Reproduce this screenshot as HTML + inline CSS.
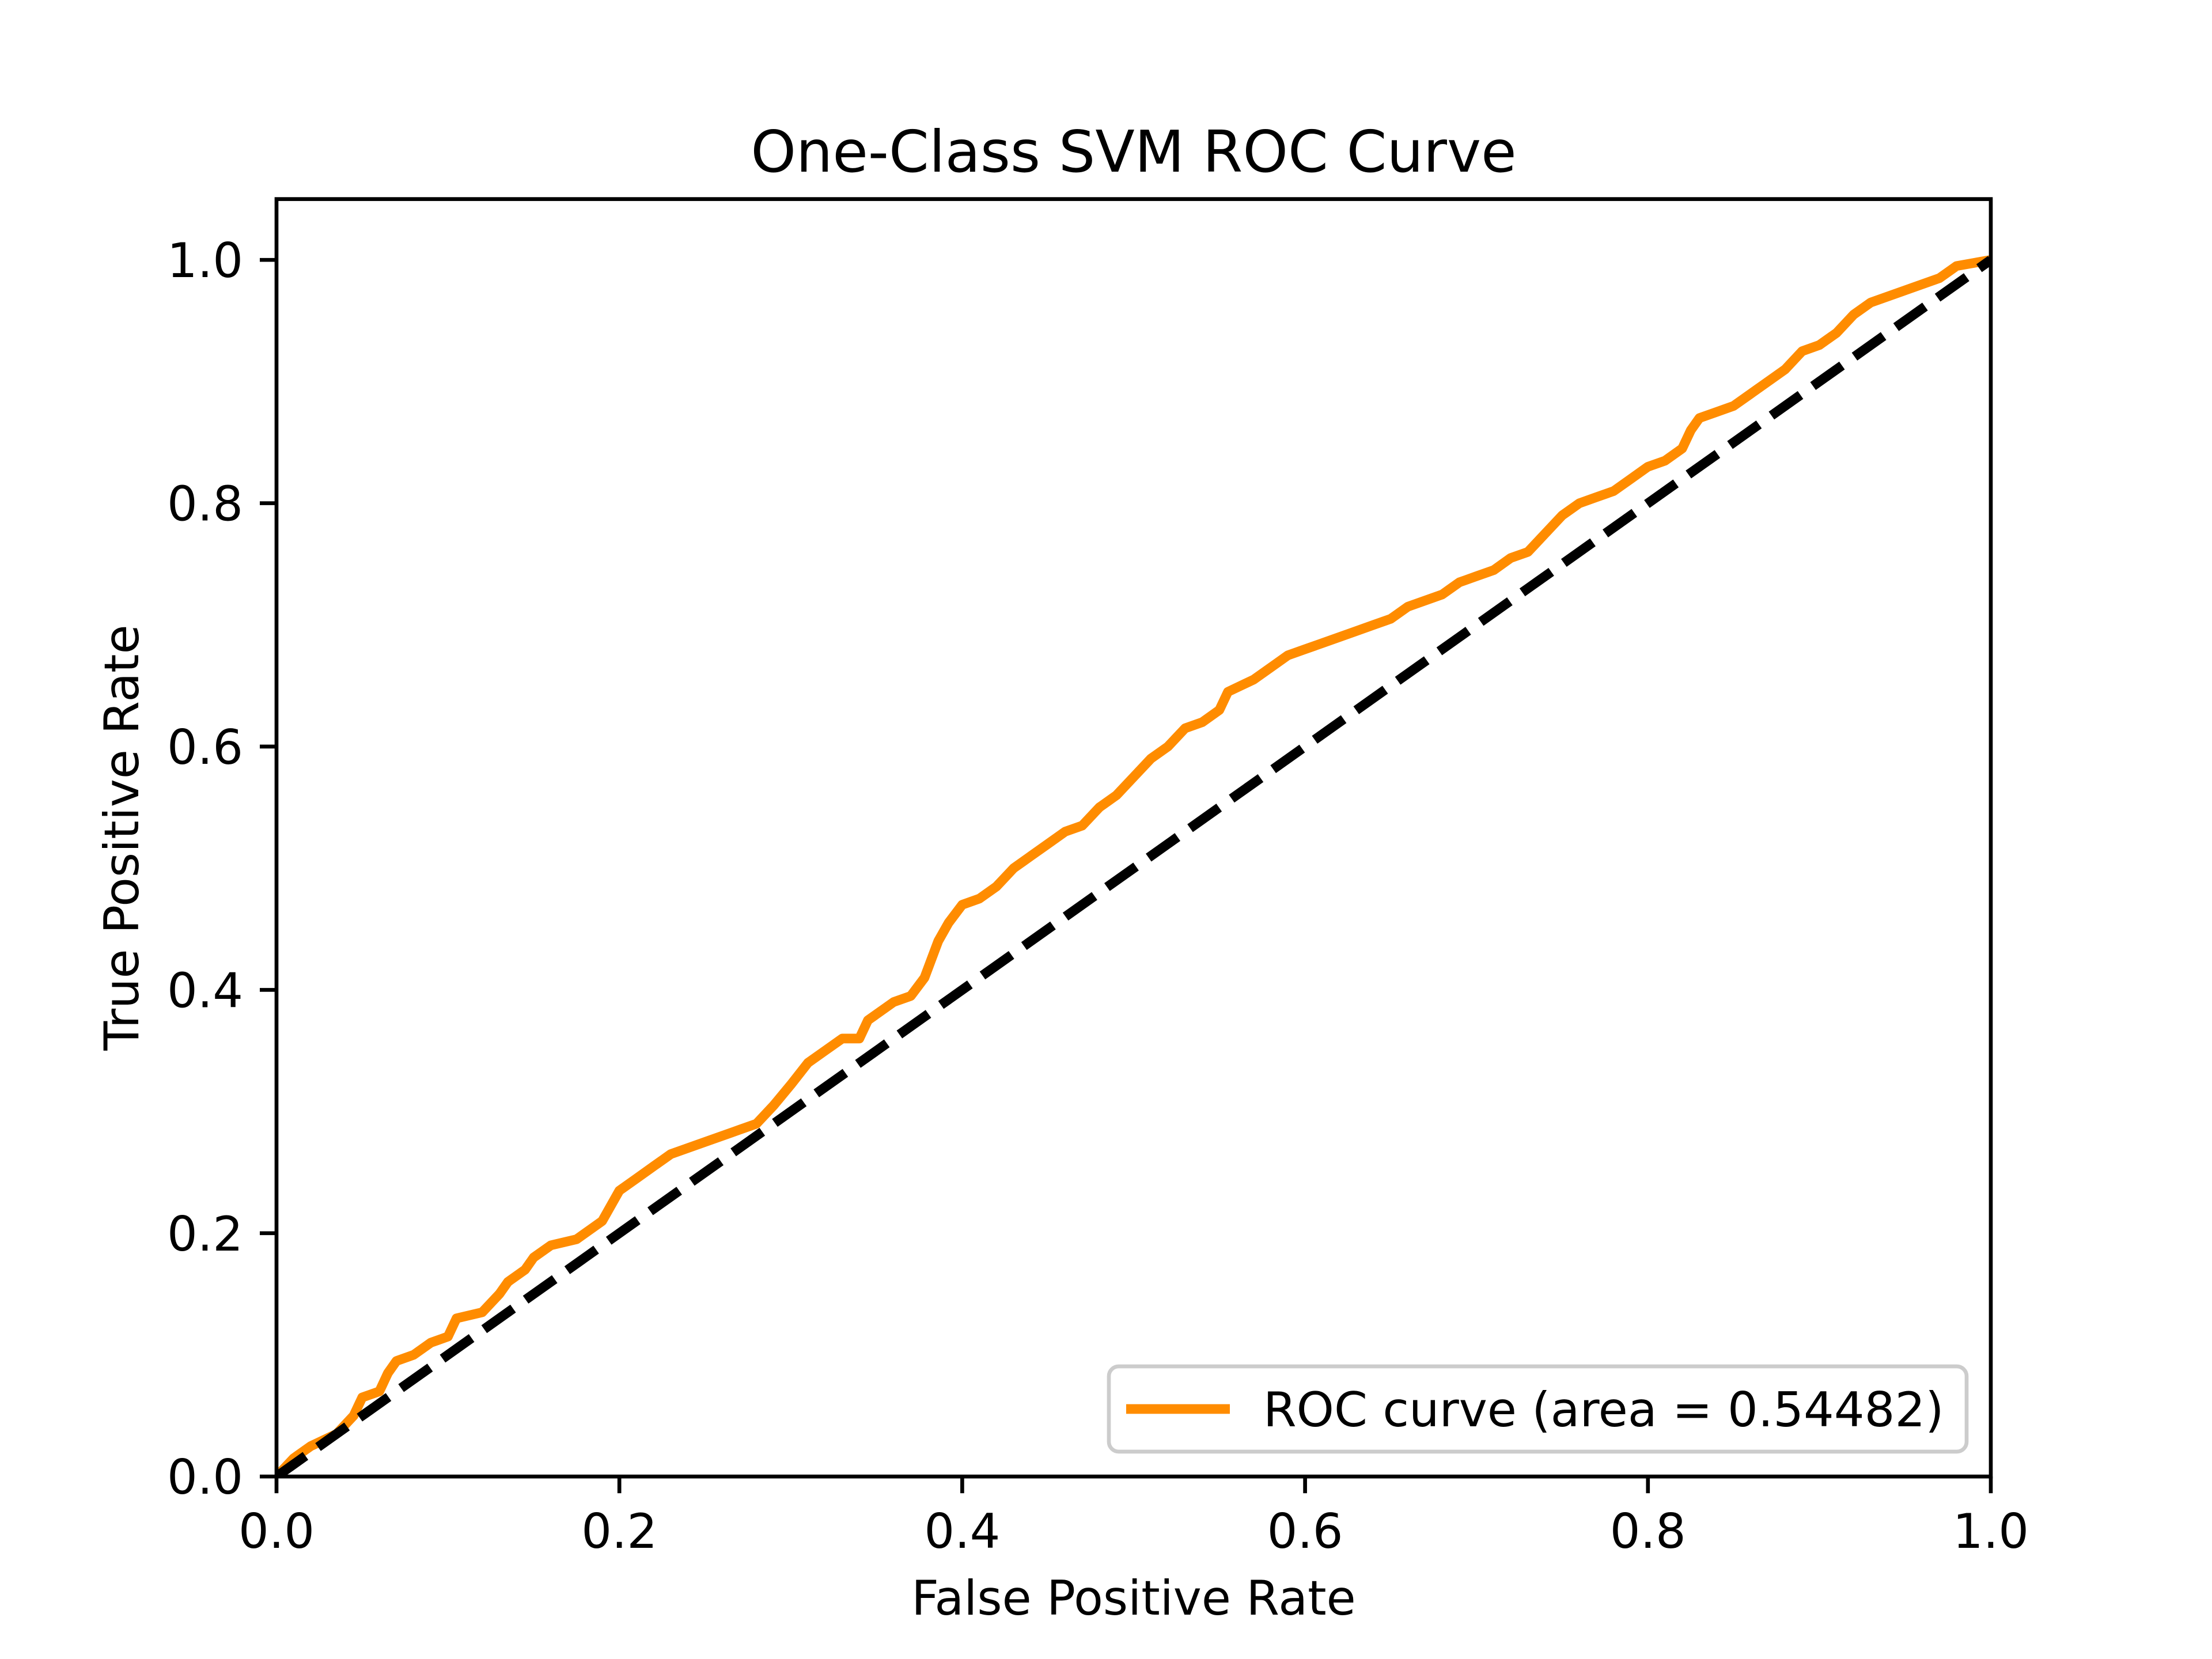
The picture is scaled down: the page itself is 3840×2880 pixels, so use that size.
<!DOCTYPE html>
<html><head><meta charset="utf-8"><style>
html,body{margin:0;padding:0;background:#fff;}
svg{display:block;font-family:"DejaVu Sans","Liberation Sans",sans-serif;}
</style></head><body>
<svg id="chart" width="3840" height="2880" viewBox="0 0 3840 2880" xmlns="http://www.w3.org/2000/svg">
<rect width="3840" height="2880" fill="#fff"/>
<text x="1968" y="298" font-size="100" text-anchor="middle" fill="#000">One-Class SVM ROC Curve</text>
<g id="plot"></g>
<text x="1968" y="2803" font-size="83" text-anchor="middle" fill="#000">False Positive Rate</text>
<text x="0" y="0" font-size="83" text-anchor="middle" fill="#000" transform="translate(240,1454) rotate(-90)">True Positive Rate</text>
</svg>
<script>
const fprValues=[0,0.01,0.02,0.035,0.045,0.05,0.06,0.065,0.07,0.08,0.09,0.1,0.105,0.12,0.13,0.135,0.145,0.15,0.16,0.175,0.18,0.19,0.2,0.21,0.22,0.23,0.25,0.27,0.28,0.29,0.3,0.31,0.32,0.33,0.34,0.345,0.36,0.37,0.378,0.386,0.392,0.4,0.41,0.42,0.43,0.44,0.45,0.46,0.47,0.48,0.49,0.5,0.51,0.52,0.53,0.54,0.55,0.555,0.57,0.58,0.59,0.6,0.61,0.63,0.64,0.65,0.66,0.68,0.69,0.7,0.71,0.72,0.73,0.74,0.75,0.76,0.77,0.78,0.79,0.8,0.81,0.82,0.825,0.83,0.84,0.85,0.86,0.87,0.88,0.89,0.9,0.91,0.92,0.93,0.95,0.97,0.98,1];
const tprValues=[0,0.015,0.025,0.035,0.05,0.065,0.07,0.085,0.095,0.1,0.11,0.115,0.13,0.135,0.15,0.16,0.17,0.18,0.19,0.195,0.2,0.21,0.235,0.245,0.255,0.265,0.275,0.285,0.29,0.305,0.322,0.34,0.35,0.36,0.36,0.375,0.39,0.395,0.41,0.44,0.455,0.47,0.475,0.485,0.5,0.51,0.52,0.53,0.535,0.55,0.56,0.575,0.59,0.6,0.615,0.62,0.63,0.645,0.655,0.665,0.675,0.68,0.685,0.695,0.7,0.705,0.715,0.725,0.735,0.74,0.745,0.755,0.76,0.775,0.79,0.8,0.805,0.81,0.82,0.83,0.835,0.845,0.86,0.87,0.875,0.88,0.89,0.9,0.91,0.925,0.93,0.94,0.955,0.965,0.975,0.985,0.995,1];
const chanceX=[0,1];
const chanceY=[0,1];
const xTicks=[0,0.2,0.4,0.6,0.8,1.0];
const yTicks=[0,0.2,0.4,0.6,0.8,1.0];
const tickLabels=["0.0","0.2","0.4","0.6","0.8","1.0"];
const legendLabel="ROC curve (area = 0.54482)";

const L=480,R=3456,T=345.6,B=2563.2;
const xs=v=>L+v*(R-L);
const ys=v=>B-v/1.05*(B-T);
const NS="http://www.w3.org/2000/svg";
const g=document.getElementById('plot');
function mk(tag,attrs){const e=document.createElementNS(NS,tag);for(const k in attrs)e.setAttribute(k,attrs[k]);return e;}
const clip=mk('clipPath',{id:'clp'});clip.appendChild(mk('rect',{x:L,y:T,width:R-L,height:B-T}));g.appendChild(clip);

let d='';fprValues.forEach((v,i)=>{d+=(i?'L':'M')+xs(v).toFixed(1)+' '+ys(tprValues[i]).toFixed(1);});
const roc=mk('path',{d:d,fill:'none',stroke:'#ff8c00','stroke-width':16.7,'stroke-linejoin':'round','clip-path':'url(#clp)'});


g.appendChild(roc);
const ch=mk('path',{d:'M'+xs(chanceX[0])+' '+ys(chanceY[0])+'L'+xs(chanceX[1])+' '+ys(chanceY[1]),stroke:'#000','stroke-width':16.7,'stroke-dasharray':'61.7 26.7',fill:'none','clip-path':'url(#clp)'});


g.appendChild(ch);

const frame=mk('rect',{x:L,y:T,width:R-L,height:B-T,fill:'none',stroke:'#000','stroke-width':6.67});


g.appendChild(frame);

xTicks.forEach((v,i)=>{
  const t=mk('line',{x1:xs(v),x2:xs(v),y1:B,y2:B+29,stroke:'#000','stroke-width':6.67});
  
  
  g.appendChild(t);
  const tx=mk('text',{x:xs(v),y:2687,'font-size':83,'text-anchor':'middle',fill:'#000'});
  tx.textContent=tickLabels[i];
  
  
  g.appendChild(tx);
});
yTicks.forEach((v,i)=>{
  const t=mk('line',{x1:L-29,x2:L,y1:ys(v),y2:ys(v),stroke:'#000','stroke-width':6.67});
  
  
  g.appendChild(t);
  const tx=mk('text',{x:422,y:ys(v)+30,'font-size':83,'text-anchor':'end',fill:'#000'});
  tx.textContent=tickLabels[i];
  
  
  g.appendChild(tx);
});

const lg=mk('g',{});


lg.appendChild(mk('rect',{x:1925,y:2372,width:1489,height:148,rx:17,fill:'#fff','fill-opacity':0.8,stroke:'#ccc','stroke-width':6.67}));
const le=mk('line',{x1:1955,x2:2135,y1:2446,y2:2446,stroke:'#ff8c00','stroke-width':16.7});


lg.appendChild(le);
const lt=mk('text',{x:2193,y:2476,'font-size':83,fill:'#000'});
lt.textContent=legendLabel;


lg.appendChild(lt);
g.appendChild(lg);
</script>
</body></html>
